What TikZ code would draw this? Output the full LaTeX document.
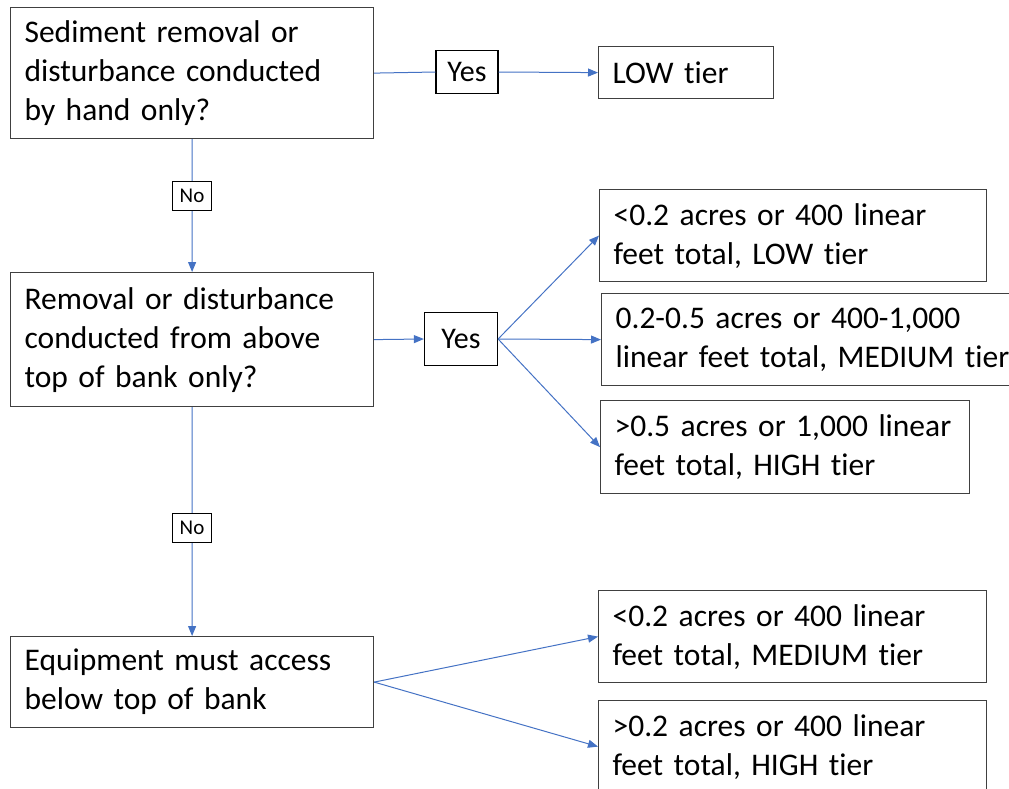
\documentclass[tikz,border=0pt]{standalone}
\usepackage{fontspec}
\setmainfont{Carlito}[Ligatures=NoCommon]
\usetikzlibrary{arrows.meta}
\definecolor{conn}{HTML}{4472C4}
\definecolor{frame}{HTML}{404040}
\hyphenpenalty=10000
\tikzset{
  box/.style={draw=frame, line width=1.2pt, anchor=north west, inner xsep=14pt, inner ysep=0pt,
    align=left, font=\fontsize{31.5}{39}\selectfont, text=black},
  lbl/.style={draw=black, line width=1.2pt, inner sep=0pt, font=\fontsize{30}{36}\selectfont},
  smalllbl/.style={draw=black, line width=1.1pt, inner sep=0pt, font=\fontsize{21}{24}\selectfont,
    minimum width=39pt, minimum height=29pt},
  link/.style={draw=conn, line width=1pt},
  arr/.style={link, -{Triangle[length=10pt,width=8pt]}}
}
\begin{document}
\begin{tikzpicture}[x=1pt,y=-1pt]
\useasboundingbox (0,0) rectangle (1009,788);

\node[box, minimum width=363pt, minimum height=131pt, text width=335pt] (q1) at (10,7)
  {\mbox{Sediment removal or}\\\mbox{disturbance conducted}\\\mbox{by hand only?}};
\node[lbl, minimum width=62pt, minimum height=43pt] (yes1) at (467,72) {Yes};
\node[box, minimum width=175pt, minimum height=52pt, text width=147pt] (low1) at (598,46) {LOW tier};

\node[smalllbl] (no1) at (192,196) {No};

\node[box, minimum width=363pt, minimum height=134pt, text width=335pt] (q2) at (10,272)
  {\mbox{Removal or disturbance}\\\mbox{conducted from above}\\\mbox{top of bank only?}};
\node[lbl, minimum width=73pt, minimum height=53pt] (yes2) at (461,339) {Yes};

\node[box, minimum width=387pt, minimum height=92pt, text width=359pt] (a) at (599,189)
  {\mbox{<0.2 acres or 400 linear}\\\mbox{feet total, LOW tier}};
\node[box, minimum width=412pt, minimum height=92pt, text width=384pt] (b) at (601,293)
  {\mbox{0.2-0.5 acres or 400-1,000}\\\mbox{linear feet total, MEDIUM tier}};
\node[box, minimum width=369pt, minimum height=93pt, text width=341pt] (c) at (600,400)
  {\mbox{>0.5 acres or 1,000 linear}\\\mbox{feet total, HIGH tier}};

\node[smalllbl] (no2) at (192,528) {No};

\node[box, minimum width=363pt, minimum height=91pt, text width=335pt] (q3) at (10,636)
  {\mbox{Equipment must access}\\\mbox{below top of bank}};
\node[box, minimum width=388pt, minimum height=92pt, text width=360pt] (d) at (598,590)
  {\mbox{<0.2 acres or 400 linear}\\\mbox{feet total, MEDIUM tier}};
\node[box, minimum width=388pt, minimum height=92pt, text width=360pt] (e) at (598,700)
  {\mbox{>0.2 acres or 400 linear}\\\mbox{feet total, HIGH tier}};

\draw[link] (q1.east) -- (yes1.west);
\draw[arr] (yes1.east) -- (low1.west);
\draw[link] (q1.south) -- (no1.north);
\draw[arr] (no1.south) -- (q2.north);
\draw[arr] (q2.east) -- (yes2.west);
\draw[arr] (yes2.east) -- (a.west);
\draw[arr] (yes2.east) -- (b.west);
\draw[arr] (yes2.east) -- (c.west);
\draw[link] (q2.south) -- (no2.north);
\draw[arr] (no2.south) -- (q3.north);
\draw[arr] (q3.east) -- (d.west);
\draw[arr] (q3.east) -- (e.west);
\end{tikzpicture}
\end{document}
